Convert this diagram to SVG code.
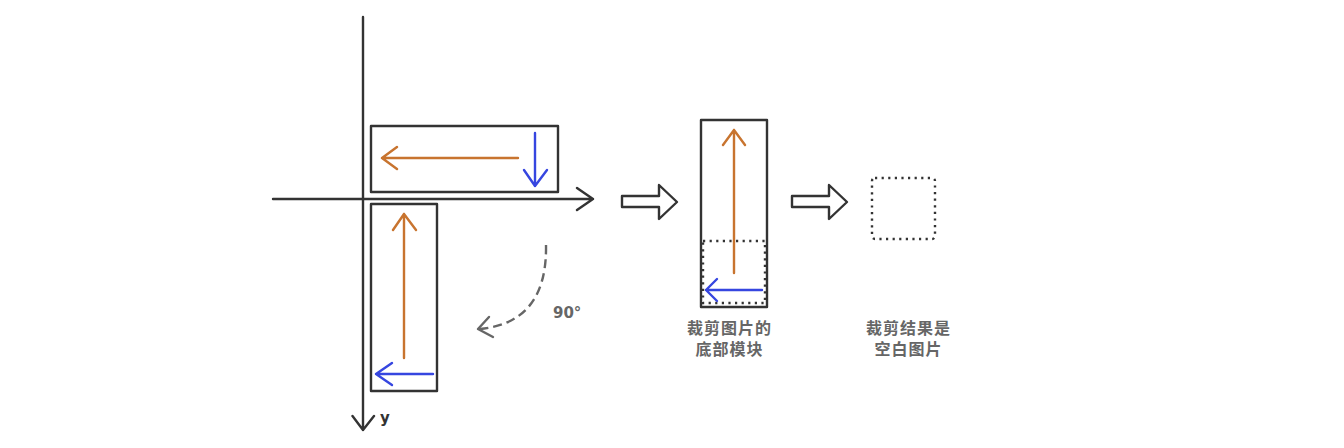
<svg xmlns="http://www.w3.org/2000/svg" width="1344" height="448" viewBox="0 0 1344 448">
<style>
.ln{fill:none;stroke:#333;stroke-width:2.4;stroke-linecap:round;stroke-linejoin:round}
.or{fill:none;stroke:#c8742f;stroke-width:2.4;stroke-linecap:round;stroke-linejoin:round}
.bl{fill:none;stroke:#3646e0;stroke-width:2.4;stroke-linecap:round;stroke-linejoin:round}
.dot{fill:none;stroke:#333;stroke-width:2.4;stroke-dasharray:2.2 4.4}
.lbl{font-family:"DejaVu Sans","Noto Sans",sans-serif;font-weight:bold;font-size:15px;fill:#666}
.cjk{font-family:"Noto Sans CJK SC",sans-serif;font-weight:bold;font-size:16px;letter-spacing:1px;fill:#666;text-anchor:middle}
</style>
<rect width="1344" height="448" fill="#fff"/>
<g id="axes">
<path class="ln" d="M273,199 H593 M577,188 L593,199 L577,210"/>
<path class="ln" d="M363,17 V430 M352.5,416 L363,430 L374,416"/>
<text class="lbl" x="380" y="423" style="fill:#333">y</text>
</g>
<g id="rect-top">
<rect class="ln" x="371" y="126" width="187" height="66"/>
<path class="or" d="M518,158 H382 M397,147 L382,158 L397,169"/>
<path class="bl" d="M535,133 V186 M524,170 L535,186 L547,170"/>
</g>
<g id="rect-bottom">
<rect class="ln" x="371" y="204" width="66" height="187"/>
<path class="or" d="M404,358 V214 M393,230 L404,214 L416,230"/>
<path class="bl" d="M433,374 H376 M392,363 L376,374 L392,385"/>
</g>
<g id="rotate">
<path d="M546,245 C547,300 522,325 480,329" fill="none" stroke="#666" stroke-width="2.4" stroke-dasharray="9 5"/>
<path d="M489,317 L478,329 L493,337" fill="none" stroke="#666" stroke-width="2.4" stroke-linecap="round" stroke-linejoin="round"/>
<text class="lbl" x="553" y="318">90°</text>
</g>
<g id="connectors">
<path class="ln" d="M622,196 H659 V185 L677,202 L659,219 V207 H622 Z"/>
<path class="ln" d="M792,196 H829 V185 L847,202 L829,219 V207 H792 Z"/>
</g>
<g id="crop-bottom">
<rect class="ln" x="701" y="120" width="66" height="187"/>
<rect class="dot" x="703" y="241" width="62" height="62"/>
<path class="or" d="M734,273 V130 M723,145 L734,130 L745,145"/>
<path class="bl" d="M762,290 H706 M717,279 L706,290 L717,301"/>
<text class="cjk" x="729.5" y="334">裁剪图片的</text>
<text class="cjk" x="729.5" y="355">底部模块</text>
</g>
<g id="result">
<rect class="dot" x="872" y="178" width="63" height="61" rx="3"/>
<text class="cjk" x="908.5" y="334">裁剪结果是</text>
<text class="cjk" x="908.5" y="355">空白图片</text>
</g>
</svg>
